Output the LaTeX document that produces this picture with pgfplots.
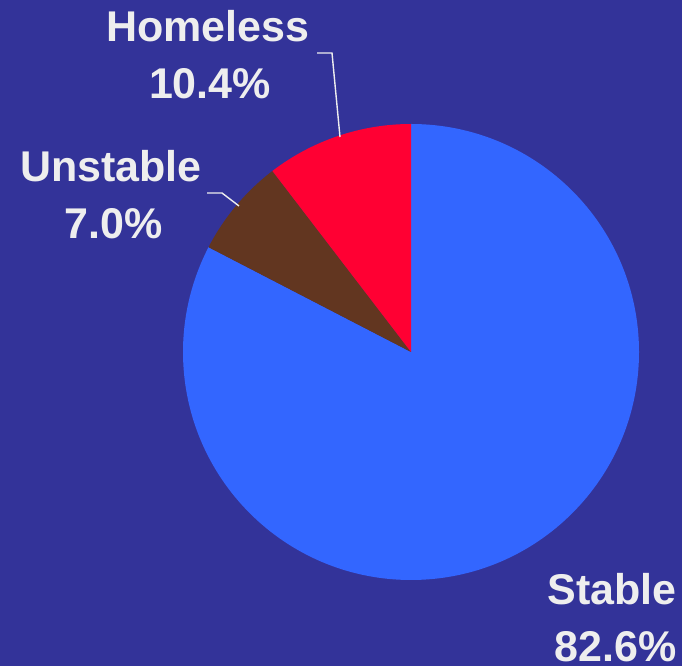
\documentclass[border=0pt]{standalone}
\usepackage{pgfplots}
\usepackage{pgfplotstable}
\pgfplotsset{compat=1.18}
\usepackage{fontspec}
\setmainfont{Liberation Sans}

\definecolor{bgc}{HTML}{333399}
\definecolor{stablec}{HTML}{3366FF}
\definecolor{unstablec}{HTML}{623620}
\definecolor{homelessc}{HTML}{FF0033}
\definecolor{txt}{HTML}{EEEEEE}

\pgfplotstableread{
label    value
Stable   82.6
Unstable 7.0
Homeless 10.4
}\housing

\pgfplotstablegetelem{0}{value}\of\housing \let\vS\pgfplotsretval
\pgfplotstablegetelem{1}{value}\of\housing \let\vU\pgfplotsretval
\pgfplotstablegetelem{2}{value}\of\housing \let\vH\pgfplotsretval
% clockwise from 12 o'clock
\pgfmathsetmacro{\aS}{90-3.6*\vS}
\pgfmathsetmacro{\aU}{\aS-3.6*\vU}
\pgfmathsetmacro{\aH}{\aU-3.6*\vH}
\newcommand{\pct}[1]{\pgfmathprintnumber[fixed,precision=1,fixed zerofill,assume math mode=true]{#1}\%}

\begin{document}
\begin{tikzpicture}
\begin{axis}[
    name=ax,
    width=682pt, height=666pt,
    scale only axis,
    xmin=0, xmax=682,
    ymin=0, ymax=666,
    hide axis,
    clip=false,
]
\fill[bgc] (axis cs:0,0) rectangle (axis cs:682,666);

% slices, radius 228 units (1 unit = 1pt)
\fill[stablec] (axis cs:411,314) -- ++(90:228pt) arc[start angle=90, end angle=\aS, radius=228pt] -- cycle;
\fill[unstablec] (axis cs:411,314) -- ++(\aS:228pt) arc[start angle=\aS, end angle=\aU, radius=228pt] -- cycle;
\fill[homelessc] (axis cs:411,314) -- ++(\aU:228pt) arc[start angle=\aU, end angle=\aH, radius=228pt] -- cycle;

% leader lines
\draw[txt, line width=1.4pt] (axis cs:317,613) -- (axis cs:332,613) -- (axis cs:340,529);
\draw[txt, line width=1.4pt] (axis cs:207,473) -- (axis cs:222,473) -- (axis cs:239,460);

% labels
\begin{scope}[every node/.style={text=txt, inner sep=0pt, font=\fontsize{43}{50}\selectfont\bfseries}]
\node[anchor=base] at (axis cs:208,624) {Homeless};
\node[anchor=base] at (axis cs:210,567) {\pct{\vH}};
\node[anchor=base] at (axis cs:111,484) {Unstable};
\node[anchor=base] at (axis cs:114,427) {\pct{\vU}};
\node[anchor=base east] at (axis cs:677,61) {Stable};
\node[anchor=base east] at (axis cs:677,5) {\pct{\vS}};
\end{scope}
\end{axis}
\pgfresetboundingbox
\path (ax.south west) rectangle (ax.north east);
\end{tikzpicture}
\end{document}
